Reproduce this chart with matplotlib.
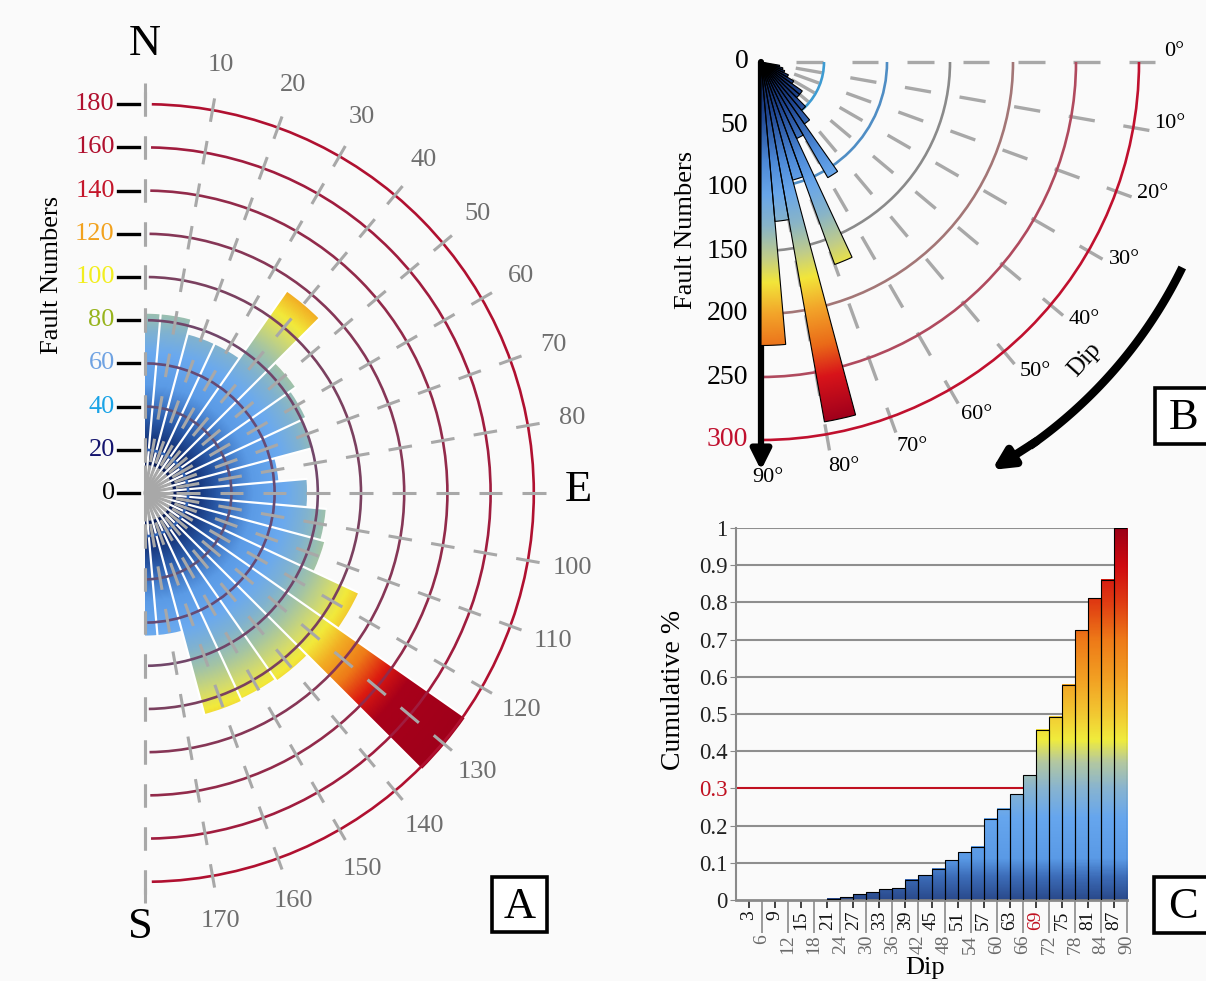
import numpy as np
import matplotlib
matplotlib.use("Agg")
import matplotlib.pyplot as plt
from matplotlib.colors import LinearSegmentedColormap
from matplotlib.patches import Wedge, PathPatch, Arc, Rectangle
from matplotlib.path import Path
from matplotlib.collections import LineCollection

plt.rcParams["font.family"] = ["Liberation Serif", "DejaVu Serif"]

W, H = 1206, 981

# ---------------- data ----------------
# A: strike rose, bins centred every 10 deg (0 and 180 are half bins)
strike_centre = np.arange(0, 181, 10)
strike_count = [83, 83, 76, 76, 114, 85, 82, 80, 62, 75, 84, 86, 109, 181, 106, 105, 106, 66, 66]
count_ticks = np.arange(0, 181, 20)
count_tick_colors = ["black", "#14146e", "#1aa3e6", "#6fa2e2", "#98b41e", "#f2ee1e",
                     "#f2a21e", "#c4162a", "#b0102e", "#b0102e"]
ring_colors_A = ["#2f62b4", "#5e5078", "#664a74", "#714669", "#7a405f", "#863656",
                 "#922a4a", "#a01c3e", "#b01030"]
strike_labels = [10, 20, 30, 40, 50, 60, 70, 80, 100, 110, 120, 130, 140, 150, 160, 170]

# B: dip rose, 5 deg bins
dip_bin_start = [10, 15, 20, 25, 30, 35, 40, 45, 50, 55, 60, 65, 70, 75, 80, 85]
dip_count = [15, 18, 20, 24, 30, 40, 40, 50, 60, 106, 67, 171, 97, 290, 127, 225]
dip_ticks = [0, 50, 100, 150, 200, 250, 300]
dip_labels = [0, 10, 20, 30, 40, 50, 60, 70, 80, 90]
ring_colors_B = ["#3d9bd2", "#4f8dc4", "#8a8a8a", "#a37676", "#b04a5e", "#c0102e"]

# C: cumulative fraction per 3 deg dip class (class upper limit)
dip_class = np.arange(3, 91, 3)
cum_frac = [0, 0, 0, 0, 0, 0, 0, 0.003, 0.007, 0.015, 0.021, 0.029, 0.031, 0.054, 0.066,
            0.084, 0.107, 0.128, 0.143, 0.218, 0.245, 0.284, 0.335, 0.458, 0.492, 0.579,
            0.725, 0.811, 0.861, 1.0]
cum_yticks = np.round(np.arange(0, 1.01, 0.1), 1)

cmapA = LinearSegmentedColormap.from_list("a", [
    (0, "#000a3a"), (20/180, "#0c2466"), (35/180, "#2d5fae"), (50/180, "#5b9be6"),
    (65/180, "#6aa9ef"), (75/180, "#80b2d0"), (86/180, "#a4c4a4"), (97/180, "#d6dc6a"),
    (104/180, "#f2ea3a"), (114/180, "#f2ae24"), (126/180, "#ee7a18"), (138/180, "#dc1a10"),
    (150/180, "#a8001a"), (1, "#a0001a")])
cmapB = LinearSegmentedColormap.from_list("b", [
    (0, "#08153f"), (40/300, "#1f4590"), (80/300, "#4d8ad8"), (105/300, "#68a6ea"),
    (130/300, "#88b4c8"), (155/300, "#c0cc8a"), (175/300, "#f2e63a"), (200/300, "#f3a52a"),
    (230/300, "#ea6a18"), (255/300, "#d8141a"), (290/300, "#a0001c"), (1, "#98001c")])
cmapC = LinearSegmentedColormap.from_list("c", [
    (0, "#2a4a8c"), (0.06, "#3c6cb8"), (0.11, "#5a9ae6"), (0.22, "#66a6ee"), (0.3, "#88b4d0"),
    (0.37, "#b4c8a0"), (0.43, "#f0ec3c"), (0.5, "#f2c832"), (0.6, "#f29e22"), (0.7, "#ee7a18"),
    (0.8, "#e03c12"), (0.9, "#d00a10"), (1.0, "#9c0018")])


def fx(px):
    return px / W


def fy(py):
    return 1 - py / H


def gradient_wedges(ax, wedges, cmap, vmax, zorder):
    x0, x1 = ax.get_xlim()
    y0, y1 = ax.get_ylim()
    X, Y = np.meshgrid(np.linspace(x0, x1, 700), np.linspace(y0, y1, 700))
    im = ax.imshow(np.hypot(X, Y), cmap=cmap, vmin=0, vmax=vmax, extent=[x0, x1, y0, y1],
                   origin="lower", aspect="auto", interpolation="bilinear", zorder=zorder)
    path = Path.make_compound_path(*[w.get_path() for w in wedges])
    im.set_clip_path(PathPatch(path, transform=ax.transData))
    ax.set_xlim(x0, x1)
    ax.set_ylim(y0, y1)


def box_label(x0, y0, x1, y1, s):
    fig.add_artist(Rectangle((fx(x0), fy(y1)), fx(x1) - fx(x0), fy(y0) - fy(y1),
                             transform=fig.transFigure, facecolor="white",
                             edgecolor="black", lw=2.6))
    fig.text(fx((x0 + x1) / 2), fy((y0 + y1) / 2 + 2), s, fontsize=32,
             ha="center", va="center")


fig = plt.figure(figsize=(W / 100, H / 100), dpi=100, facecolor="#fafafa")

# ---------------- panel A ----------------
sA, cxA, cyA = 2.16, 145, 493
axA = fig.add_axes([0, 0, 603 / W, 1])
axA.set_xlim(-cxA / sA, (603 - cxA) / sA)
axA.set_ylim(-(H - cyA) / sA, cyA / sA)
axA.axis("off")

wedges = []
for c, n in zip(strike_centre, strike_count):
    a1, a2 = max(c - 5, 0), min(c + 5, 180)
    wedges.append(Wedge((0, 0), n, 90 - a2, 90 - a1))
gradient_wedges(axA, wedges, cmapA, 180, 1)

# white borders between classes
for i, e in enumerate(range(5, 180, 10)):
    r = max(strike_count[i], strike_count[i + 1])
    t = np.radians(e)
    axA.plot([0, r * np.sin(t)], [0, r * np.cos(t)], color="white", lw=1.6, zorder=2)

for v, col in zip(count_ticks[1:], ring_colors_A):
    axA.add_patch(Arc((0, 0), 2 * v, 2 * v, theta1=-89, theta2=89, color=col, lw=1.9, zorder=3))

segs = []
for a in range(0, 181, 10):
    t = np.radians(a)
    u = np.array([np.sin(t), np.cos(t)])
    segs.append([u * 0, u * 13])
    for v in range(20, 181, 20):
        segs.append([u * (v - 5.5), u * (v + 5.5)])
for v in range(20, 181, 20):
    segs.append([(0, -v - 5.5), (0, -v + 5.5)])
    segs.append([(0, v - 5.5), (0, v + 5.5)])
segs.append([(0, 183), (0, 190)])
segs.append([(0, -183), (0, -190)])
axA.add_collection(LineCollection(segs, colors="#a8a8a8", lw=2.2, zorder=4))

for v, col in zip(count_ticks, count_tick_colors):
    axA.plot([-12.3, -3.0], [v, v], color="black", lw=2.4, zorder=5)
    axA.text(-14, v, str(v), color=col, fontsize=19, ha="right", va="center")
axA.text(-43, 101, "Fault Numbers", rotation=90, fontsize=19, ha="center", va="center")

for a in strike_labels:
    t = np.radians(a)
    axA.text(201 * np.sin(t), 201 * np.cos(t), str(a), color="#6e6e6e", fontsize=19,
             ha="center", va="center")
axA.text(0, 208, "N", fontsize=32, ha="center", va="center")
axA.text(200.5, 1.5, "E", fontsize=32, ha="center", va="center")
axA.text(-2, -201, "S", fontsize=32, ha="center", va="center")

# ---------------- panel B ----------------
sB, cxB, cyB = 1.26, 761, 62
axB = fig.add_axes([603 / W, fy(500), 603 / W, 500 / H])
axB.set_xlim((603 - cxB) / sB, (1206 - cxB) / sB)
axB.set_ylim(-(500 - cyB) / sB, cyB / sB)
axB.axis("off")

segs = []
for d in range(0, 90, 10):
    t = np.radians(d)
    u = np.array([np.cos(t), -np.sin(t)])
    for s0 in range(28, 300, 44):
        segs.append([u * s0, u * (s0 + 21)])
axB.add_collection(LineCollection(segs, colors="#a8a8a8", lw=2.4, zorder=1))

for v, col in zip(dip_ticks[1:], ring_colors_B):
    axB.add_patch(Arc((0, 0), 2 * v, 2 * v, theta1=-90, theta2=0, color=col, lw=1.9, zorder=2))

axB.annotate("", xy=(0, -324), xytext=(0, 0),
             arrowprops=dict(arrowstyle="-|>", lw=4.5, color="black", mutation_scale=30,
                             shrinkA=0, shrinkB=0), zorder=2)

wedges = []
for d, n in zip(dip_bin_start, dip_count):
    wedges.append(Wedge((0, 0), n, -(d + 5), -d))
    axB.add_patch(Wedge((0, 0), n, -(d + 5), -d, fill=False, edgecolor="black", lw=0.8, zorder=4))
gradient_wedges(axB, wedges, cmapB, 300, 3)

for v in dip_ticks:
    axB.text(-10, -v, str(v), fontsize=20, ha="right", va="center",
             color="#c0102e" if v == 300 else "black")
axB.text(-59.5, -133, "Fault Numbers", rotation=90, fontsize=19, ha="center", va="center")

for d in dip_labels:
    t = np.radians(d - 1.5) if d < 90 else np.radians(89)
    r = 328 if d < 90 else 330
    axB.text(r * np.cos(t), -r * np.sin(t), f"{d}°", fontsize=16, ha="center", va="center")

R = 372
th = np.radians(np.linspace(26, 55, 60))
axB.plot(R * np.cos(th), -R * np.sin(th), color="black", lw=6, solid_capstyle="butt", zorder=5)
p0 = np.radians(54)
p1 = np.radians(60.5)
axB.annotate("", xy=(R * np.cos(p1), -R * np.sin(p1)), xytext=(R * np.cos(p0), -R * np.sin(p0)),
             arrowprops=dict(arrowstyle="-|>", lw=6, color="black", mutation_scale=30,
                             shrinkA=0, shrinkB=0), zorder=5)
axB.text(257, -236, "Dip", fontsize=18, rotation=48, ha="center", va="center")

# ---------------- panel C ----------------
axC = fig.add_axes([fx(736), fy(900), 391 / W, 372 / H])
axC.set_facecolor("none")
for y in cum_yticks[1:]:
    axC.axhline(y, color="#c01020" if y == 0.3 else "#8e8e8e", lw=1.5, zorder=1)
for k, v in zip(dip_class, cum_frac):
    if v <= 0:
        continue
    axC.imshow(np.linspace(0, v, 256)[:, None], extent=[k - 3, k, 0, v], origin="lower",
               cmap=cmapC, vmin=0, vmax=1, aspect="auto", zorder=2)
    axC.add_patch(Rectangle((k - 3, 0), 3, v, fill=False, edgecolor="black", lw=0.8, zorder=3))
axC.set_xlim(0, 90)
axC.set_ylim(0, 1)

for side in ["top", "right"]:
    axC.spines[side].set_visible(False)
axC.spines["left"].set_color("#8a8a8a")
axC.spines["left"].set_linewidth(1.5)
axC.spines["bottom"].set_color("#8a8a8a")
axC.spines["bottom"].set_linewidth(2)

axC.set_yticks(cum_yticks, ["0" if y == 0 else ("1" if y == 1 else f"{y:.1f}") for y in cum_yticks])
axC.tick_params(axis="y", length=4, color="#8a8a8a", labelsize=16.5, pad=2, labelcolor="#222222")
for lbl in axC.get_yticklabels():
    if lbl.get_text() == "0.3":
        lbl.set_color("#c01020")

upper = dip_class[0::2]
lower = dip_class[1::2]
axC.set_xticks(upper, [str(k) for k in upper])
axC.set_xticks(lower, [str(k) for k in lower], minor=True)
axC.tick_params(axis="x", which="major", length=6, width=1.2, color="#222222", labelsize=14,
                labelrotation=90, pad=1.5, labelcolor="#111111")
axC.tick_params(axis="x", which="minor", length=24, width=1.2, color="#8a8a8a", labelsize=14,
                labelrotation=90, pad=1, labelcolor="#6a6a6a")
for i, lbl in enumerate(axC.get_xticklabels()):
    if lbl.get_text() == "69":
        lbl.set_color("#c01020")
        axC.xaxis.get_major_ticks()[i].tick1line.set_color("#c01020")

fig.text(fx(673), fy(690), "Cumulative %", rotation=90, fontsize=20, ha="center", va="center")
fig.text(fx(925), fy(968), "Dip", fontsize=19, ha="center", va="center")

box_label(492, 877, 547, 932, "A")
box_label(1155, 388, 1212, 444, "B")
box_label(1154, 877, 1212, 933, "C")

fig.savefig("out.png", dpi=100, facecolor=fig.get_facecolor())
